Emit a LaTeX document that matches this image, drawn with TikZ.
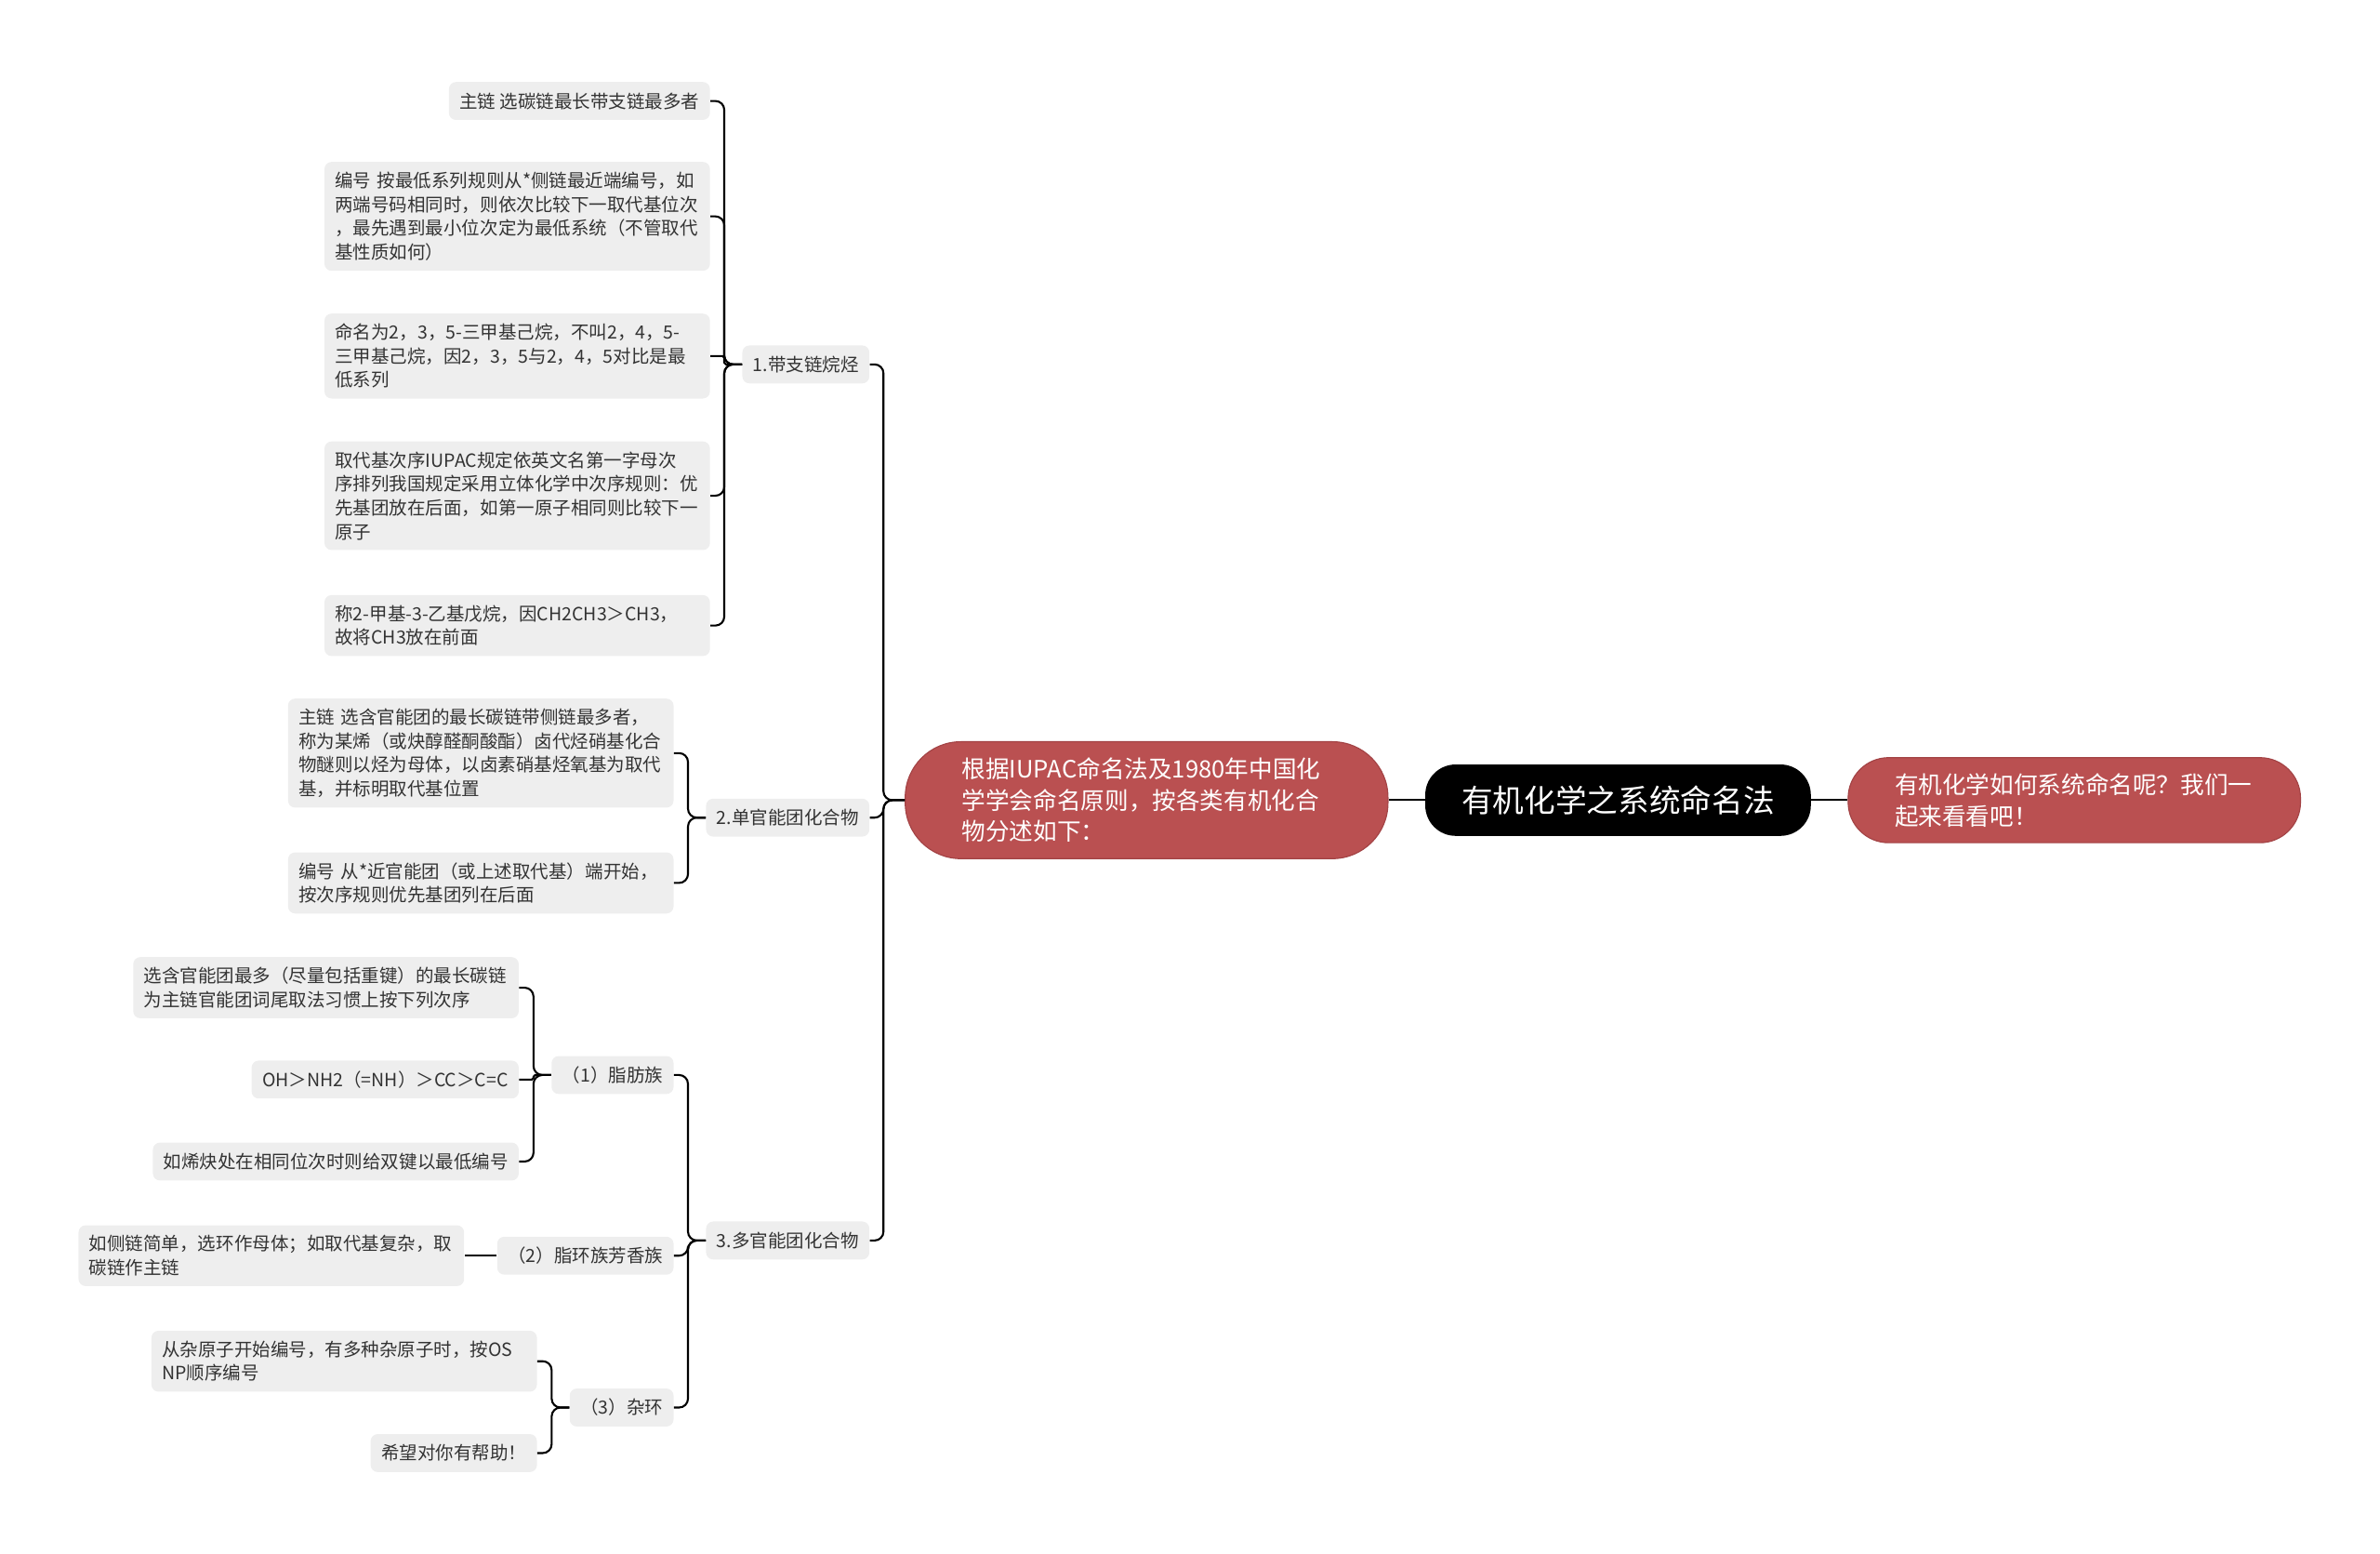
\documentclass[tikz,border=0pt]{standalone}
\usepackage{fontspec}
\setmainfont{Noto Sans CJK SC}
\usetikzlibrary{positioning}
\definecolor{leafgray}{HTML}{EEEEEE}
\definecolor{leaftext}{HTML}{333333}
\definecolor{topicred}{HTML}{BA5051}
\definecolor{topicedge}{HTML}{A34345}

\begin{document}
\begin{tikzpicture}[x=0.03cm, y=-0.03cm,
    leaf/.style={fill=leafgray, text=leaftext, rounded corners=4pt, align=left, inner xsep=0.21cm, inner ysep=0.2cm, minimum height=0.75cm, font=\fontsize{10.2pt}{13.4pt}\selectfont, anchor=east},
    wide/.style={text width=7.2cm},
    topic/.style={fill=topicred, draw=topicedge, line width=0.6pt, text=white, align=left, font=\fontsize{13.4pt}{17.6pt}\selectfont},
    link/.style={draw=black, line width=1.1pt, rounded corners=5pt},
    fork/.style={to path={-- ++(-#1,0) |- (\tikztotarget)}}, fork/.default=0.35cm]
    \useasboundingbox (0,0) rectangle (1568,1023);

    % centre
    \node[fill=black, text=white, rounded corners=0.6cm, minimum width=7.62cm, minimum height=1.41cm, font=\fontsize{17.6pt}{20pt}\selectfont] (root) at (1066,527) {有机化学之系统命名法};
    \node[topic, right=0.72cm of root, text width=7.1cm, inner xsep=0.92cm, minimum height=1.68cm, rounded corners=0.8cm] (intro) {有机化学如何系统命名呢？我们一\\起来看看吧！};
    \node[topic, left=0.72cm of root, text width=7.3cm, inner xsep=1.12cm, minimum height=2.31cm, rounded corners=1.1cm] (rules) {根据IUPAC命名法及1980年中国化\\学学会命名原则，按各类有机化合\\物分述如下：};

    % first level
    \node[leaf] (alkane) at (573,240) {1.带支链烷烃};
    \node[leaf] (single) at (573,538.5) {2.单官能团化合物};
    \node[leaf] (multi) at (573,817) {3.多官能团化合物};

    % 1.
    \node[leaf] (a1) at (468,66.5) {主链 选碳链最长带支链最多者};
    \node[leaf, wide] (a2) at (468,142.5) {编号 按最低系列规则从*侧链最近端编号，如\\两端号码相同时，则依次比较下一取代基位次\\，最先遇到最小位次定为最低系统（不管取代\\基性质如何）};
    \node[leaf, wide] (a3) at (468,234.5) {命名为2，3，5-三甲基己烷，不叫2，4，5-\\三甲基己烷，因2，3，5与2，4，5对比是最\\低系列};
    \node[leaf, wide] (a4) at (468,326.5) {取代基次序IUPAC规定依英文名第一字母次\\序排列我国规定采用立体化学中次序规则：优\\先基团放在后面，如第一原子相同则比较下一\\原子};
    \node[leaf, wide] (a5) at (468,412) {称2-甲基-3-乙基戊烷，因CH2CH3＞CH3，\\故将CH3放在前面};

    % 2.
    \node[leaf, wide] (s1) at (444,496) {主链 选含官能团的最长碳链带侧链最多者，\\称为某烯（或炔醇醛酮酸酯）卤代烃硝基化合\\物醚则以烃为母体，以卤素硝基烃氧基为取代\\基，并标明取代基位置};
    \node[leaf, wide] (s2) at (444,581.5) {编号 从*近官能团（或上述取代基）端开始，\\按次序规则优先基团列在后面};

    % 3.
    \node[leaf] (fat) at (444,708) {（1）脂肪族};
    \node[leaf] (ring) at (444,827) {（2）脂环族芳香族};
    \node[leaf] (hetero) at (444,927) {（3）杂环};

    \node[leaf, wide] (f1) at (342,650.5) {选含官能团最多（尽量包括重键）的最长碳链\\为主链官能团词尾取法习惯上按下列次序};
    \node[leaf] (f2) at (342,711) {OH＞NH2（=NH）＞CC＞C=C};
    \node[leaf] (f3) at (342,765) {如烯炔处在相同位次时则给双键以最低编号};
    \node[leaf, wide] (r1) at (306,827) {如侧链简单，选环作母体；如取代基复杂，取\\碳链作主链};
    \node[leaf, wide] (h1) at (354,896.5) {从杂原子开始编号，有多种杂原子时，按OS\\NP顺序编号};
    \node[leaf] (h2) at (354,957) {希望对你有帮助！};

    \draw[link] (root) -- (intro);
    \draw[link] (root) -- (rules);
    \path (rules.west) edge[link, fork=0.42cm] (alkane.east);
    \path (rules.west) edge[link, fork=0.42cm] (single.east);
    \path (rules.west) edge[link, fork=0.42cm] (multi.east);
    \path (alkane.west) edge[link, fork] (a1.east);
    \path (alkane.west) edge[link, fork] (a2.east);
    \path (alkane.west) edge[link, fork, rounded corners=1pt] (a3.east);
    \path (alkane.west) edge[link, fork] (a4.east);
    \path (alkane.west) edge[link, fork] (a5.east);
    \path (single.west) edge[link, fork] (s1.east);
    \path (single.west) edge[link, fork] (s2.east);
    \path (multi.west) edge[link, fork] (fat.east);
    \path (multi.west) edge[link, fork] (ring.east);
    \path (multi.west) edge[link, fork] (hetero.east);
    \path (fat.west) edge[link, fork] (f1.east);
    \path (fat.west) edge[link, fork, rounded corners=1pt] (f2.east);
    \path (fat.west) edge[link, fork] (f3.east);
    \draw[link] (ring) -- (r1);
    \path (hetero.west) edge[link, fork] (h1.east);
    \path (hetero.west) edge[link, fork] (h2.east);
\end{tikzpicture}
\end{document}
